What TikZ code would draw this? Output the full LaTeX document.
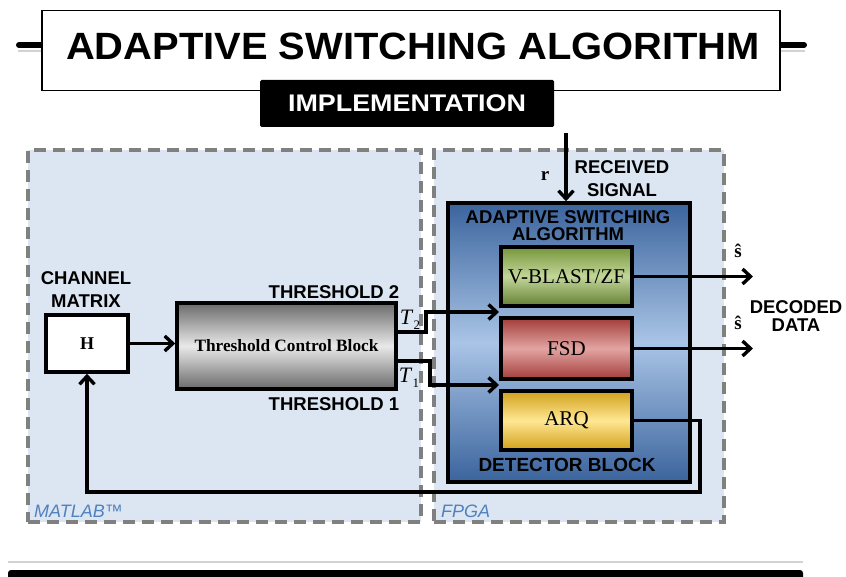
\documentclass[tikz,border=0pt]{standalone}
\usepackage{fontspec}
\setmainfont{Liberation Serif}
\setsansfont{Liberation Sans}
\usetikzlibrary{arrows.meta,calc}
\definecolor{regionfill}{HTML}{DCE6F2}
\definecolor{dashgray}{HTML}{808080}
\definecolor{labelblue}{HTML}{4F81BD}
\definecolor{detdark}{HTML}{3B649D}
\definecolor{detlight}{HTML}{A9C4E6}
\definecolor{gdark}{HTML}{76963A}
\definecolor{glight}{HTML}{C2D69A}
\definecolor{rdark}{HTML}{A33D3A}
\definecolor{rlight}{HTML}{E2A4A2}
\definecolor{ydark}{HTML}{D1A01A}
\definecolor{ylight}{HTML}{FFE793}
\definecolor{kdark}{HTML}{6A6A6A}
\definecolor{klight}{HTML}{E9E9E9}
\tikzset{
  lbl/.style={font=\sffamily\bfseries\fontsize{18.5}{20}\selectfont, inner sep=0pt},
  conn/.style={line width=3.4pt, draw=black},
  arr/.style={conn, -{Straight Barb[length=8pt,width=15pt]}},
  region/.style={fill=regionfill, draw=dashgray, line width=3.4pt, dash pattern=on 12pt off 7pt, inner sep=0pt},
  detbox/.style={draw=black, line width=3.6pt, inner sep=0pt, font=\fontsize{21}{23}\selectfont, minimum width=131pt},
  plainbox/.style={draw=black, line width=3.6pt, inner sep=0pt},
  arealbl/.style={font=\sffamily\itshape\fontsize{18}{20}\selectfont, text=labelblue, inner sep=0pt, anchor=west},
  mathlbl/.style={font=\bfseries\fontsize{19}{21}\selectfont, inner sep=0pt}
}
\begin{document}
\begin{tikzpicture}[x=1pt,y=-1pt]
\useasboundingbox (0,0) rectangle (846,577);
\fill[white] (0,0) rectangle (846,577);

% top rule behind title
\draw[gray!35, line width=2pt] (18,51) -- (805,51);
\draw[black, line width=6pt, line cap=round] (19,45) -- (804,45);
\node[draw=black, line width=1.4pt, fill=white, minimum width=738pt, minimum height=80pt, inner sep=0pt] (title) at (411,50.5) {};
\node[font=\sffamily\bfseries\fontsize{38}{42}\selectfont, inner sep=0pt] (titletxt) at (413,46.5) {\scalebox{1.05}[1]{ADAPTIVE SWITCHING ALGORITHM}};
\node[fill=black, minimum width=294pt, minimum height=47pt, inner sep=0pt, rounded corners=1.5pt] (impl) at (407,103.5) {};
\node[font=\sffamily\bfseries\fontsize{24}{26}\selectfont, text=white, inner sep=0pt] (impltxt) at (407,103) {\scalebox{1.12}[1]{IMPLEMENTATION}};

% regions
\node[region, minimum width=393pt, minimum height=372pt] (matlab) at (224.5,336) {};
\node[region, minimum width=290pt, minimum height=372pt] (fpga) at (579,336) {};
\node[arealbl] (matlabtxt) at (34,511) {MATLAB™};
\node[arealbl] (fpgatxt) at (441,511) {FPGA};

% detector block
\node[plainbox, minimum width=242pt, minimum height=279pt, top color=detdark, bottom color=detdark, middle color=detlight] (det) at (569,342.5) {};
\node[lbl] (asa1) at (568,217) {ADAPTIVE SWITCHING};
\node[lbl] (asa2) at (568,234) {ALGORITHM};
\node[lbl, font=\sffamily\bfseries\fontsize{19}{21}\selectfont] (dettxt) at (567,465) {DETECTOR BLOCK};

\node[detbox, minimum height=59pt, top color=gdark, bottom color=gdark!85!black, middle color=glight] (vblast) at (566.5,276.5) {V-BLAST/ZF};
\node[detbox, minimum height=61pt, top color=rdark, bottom color=rdark, middle color=rlight] (fsd) at (566.5,348.5) {FSD};
\node[detbox, minimum height=59pt, top color=ydark, bottom color=ydark, middle color=ylight] (arq) at (566.5,420.5) {ARQ};

% matlab side
\node[plainbox, fill=white, minimum width=82pt, minimum height=57pt, font=\bfseries\fontsize{18}{20}\selectfont] (H) at (87,343.5) {H};
\node[plainbox, minimum width=219pt, minimum height=86pt, top color=kdark, bottom color=kdark, middle color=klight, font=\bfseries\fontsize{17.3}{19}\selectfont] (tcb) at (286.5,346) {Threshold Control Block};
\node[lbl] (ch1) at (86,278) {CHANNEL};
\node[lbl] (ch2) at (86,301) {MATRIX};
\node[lbl] (th2) at (334,292) {THRESHOLD 2};
\node[lbl] (th1) at (334,404) {THRESHOLD 1};
\node[inner sep=0pt, font=\fontsize{22}{24}\selectfont] (t2lbl) at (410,320) {\textit{T}\raisebox{-5pt}{\fontsize{13}{14}\selectfont 2}};
\node[inner sep=0pt, font=\fontsize{22}{24}\selectfont] (t1lbl) at (409,378) {\textit{T}\raisebox{-5pt}{\fontsize{13}{14}\selectfont 1}};

% received signal
\node[mathlbl] (rlbl) at (545,176) {r};
\node[lbl] (rs1) at (622,167) {RECEIVED};
\node[lbl] (rs2) at (622,190) {SIGNAL};
\coordinate (rxstart) at (566,133);
\draw[arr] (rxstart) -- (rxstart |- det.north);

% outputs
\coordinate (outx) at (753,0);
\draw[arr] (vblast.east) -- (vblast.east -| outx);
\draw[arr] (fsd.east) -- (fsd.east -| outx);
\node[mathlbl] (s1) at (738,251) {\^{s}};
\node[mathlbl] (s2) at (738,323) {\^{s}};
\node[lbl] (dd1) at (796,307) {DECODED};
\node[lbl] (dd2) at (796,325) {DATA};

% threshold connectors
\coordinate (t2out) at (396,332);
\coordinate (t2in) at (499,312);
\coordinate (t1out) at (396,361);
\coordinate (t1in) at (499,385);
\draw[arr] (H.east) -- (H.east -| tcb.west);
\draw[arr] (t2out) -- ++(30,0) |- (t2in);
\draw[arr] (t1out) -- ++(34,0) |- (t1in);

% feedback
\coordinate (fb) at (700,492);
\draw[arr] (arq.east) -| (fb) -| (H.south);

% bottom rules
\draw[gray!35, line width=2pt] (8,562) -- (803,562);
\fill[black, rounded corners=3pt] (8,570) rectangle (803,582);
\end{tikzpicture}
\end{document}
